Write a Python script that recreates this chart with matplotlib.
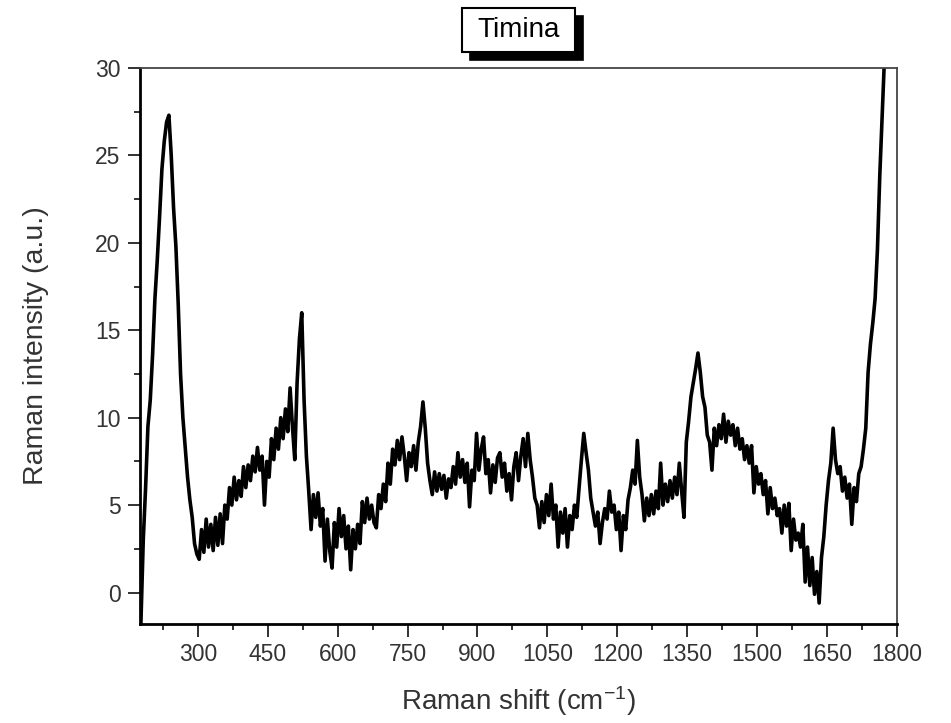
import numpy as np
import matplotlib
matplotlib.use("Agg")
import matplotlib.pyplot as plt
from matplotlib.patches import Rectangle
from matplotlib.ticker import MultipleLocator

plt.rcParams['font.family'] = ['Liberation Sans', 'DejaVu Sans']
plt.rcParams['mathtext.fontset'] = 'custom'
plt.rcParams['mathtext.rm'] = 'Liberation Sans'
plt.rcParams['mathtext.default'] = 'regular'

# Raman shift grid (cm-1) and intensity
shift = np.arange(178, 1776, 5)
intensity = [
    -1.7, 3.0, 6.0, 9.5, 11.0, 13.6, 16.8, 19.0, 21.5, 24.2,
    25.8, 26.9, 27.3, 25.0, 22.0, 19.8, 16.5, 12.5, 10.0, 8.3,
    6.6, 5.3, 4.3, 2.8, 2.2, 1.9, 3.6, 2.3, 4.2, 2.6,
    3.9, 2.4, 4.3, 2.7, 4.5, 2.8, 5.0, 4.2, 6.0, 5.0,
    6.6, 5.3, 6.4, 5.5, 7.2, 6.0, 7.3, 6.4, 7.8, 6.9,
    8.3, 7.0, 7.8, 5.0, 7.5, 6.6, 8.8, 7.6, 9.4, 8.2,
    10.0, 8.8, 10.5, 9.2, 11.7, 9.5, 7.6, 12.0, 14.5, 16.0,
    11.0, 7.8, 5.8, 3.6, 5.6, 4.3, 5.7, 3.8, 4.8, 1.8,
    4.2, 2.4, 1.4, 4.0, 2.6, 4.8, 3.2, 4.4, 2.5, 3.8,
    1.3, 3.6, 2.5, 3.9, 2.8, 5.2, 4.0, 5.4, 4.2, 5.0,
    4.0, 3.7, 5.6, 4.8, 6.2, 5.2, 7.4, 6.2, 8.2, 7.3,
    8.7, 7.6, 8.9, 7.8, 6.4, 8.0, 7.2, 8.4, 7.0, 8.6,
    9.5, 10.9, 9.4, 7.4, 6.4, 5.6, 6.9, 5.8, 6.8, 5.9,
    6.7, 5.4, 6.5, 6.0, 7.2, 6.2, 8.0, 6.6, 7.6, 6.3,
    7.4, 4.9, 7.0, 6.4, 9.1, 7.0, 8.2, 8.9, 6.8, 7.6,
    5.7, 7.3, 6.3, 7.7, 8.0, 6.6, 7.4, 5.8, 6.8, 5.3,
    7.2, 8.0, 6.4, 7.8, 8.8, 7.2, 9.1, 7.6, 6.6, 5.4,
    5.0, 3.7, 5.2, 4.0, 5.6, 4.4, 6.2, 4.2, 5.0, 2.6,
    4.6, 3.4, 4.8, 2.6, 4.4, 3.6, 5.0, 4.3, 6.0, 7.6,
    9.1, 8.0, 7.0, 5.4, 4.6, 3.8, 4.6, 2.8, 4.0, 4.8,
    4.2, 5.8, 4.6, 5.0, 3.6, 4.6, 2.4, 4.4, 3.6, 5.3,
    6.0, 7.0, 6.2, 8.7, 6.6, 5.6, 4.1, 5.4, 4.4, 5.6,
    4.5, 5.8, 4.8, 7.4, 5.0, 6.2, 5.2, 6.4, 5.4, 6.6,
    5.6, 7.4, 5.8, 4.3, 8.6, 9.8, 11.2, 12.0, 12.8, 13.7,
    12.6, 11.2, 10.6, 9.0, 8.6, 7.0, 9.4, 8.4, 9.6, 8.8,
    10.2, 8.6, 9.8, 9.0, 9.6, 8.4, 9.4, 8.2, 8.8, 7.6,
    8.4, 7.4, 8.4, 5.7, 7.2, 6.2, 6.8, 5.6, 6.4, 4.5,
    6.0, 4.8, 5.4, 4.4, 4.8, 3.4, 5.0, 3.8, 5.1, 2.4,
    4.2, 3.0, 3.4, 2.6, 3.9, 0.6, 2.6, 0.4, 2.0, -0.1,
    1.2, -0.6, 2.0, 3.2, 5.0, 6.4, 7.4, 9.4, 7.6, 6.8,
    7.2, 5.8, 6.6, 5.4, 6.2, 3.9, 6.0, 5.2, 6.8, 7.2,
    8.2, 9.4, 12.6, 14.2, 15.4, 16.8, 19.6, 23.8, 27.2, 30.5,
]

x_ticks = [300, 450, 600, 750, 900, 1050, 1200, 1350, 1500, 1650, 1800]
y_ticks = [0, 5, 10, 15, 20, 25, 30]

W, H = 951, 723
fig = plt.figure(figsize=(W / 100, H / 100), dpi=100)
ax = fig.add_axes([140 / W, 1 - 624 / H, 757 / W, 556 / H])

ax.plot(shift, intensity, color='black', linewidth=2.6)

ax.set_xlim(176, 1800)
ax.set_ylim(-1.8, 30)
ax.set_xticks(x_ticks)
ax.set_yticks(y_ticks)
ax.xaxis.set_minor_locator(MultipleLocator(75))
ax.yaxis.set_minor_locator(MultipleLocator(2.5))
ax.tick_params(which='both', direction='out', top=False, right=False,
               labelsize=16.5, labelcolor='#333333', color='#222222', width=1.3)
ax.tick_params(which='major', length=9, pad=5)
ax.tick_params(which='minor', length=4.5)

for side in ['left', 'bottom']:
    ax.spines[side].set_linewidth(2.0)
    ax.spines[side].set_color('black')
for side in ['top', 'right']:
    ax.spines[side].set_linewidth(1.3)
    ax.spines[side].set_color('#444444')

ax.set_xlabel(r'Raman shift (cm$^{-1}$)', fontsize=20, color='#333333', labelpad=13)
ax.set_ylabel('Raman intensity (a.u.)', fontsize=20.5, color='#333333', labelpad=33)

# boxed title with drop shadow (Origin style)
bx, by, bw, bh = 462 / W, 1 - 52 / H, 113 / W, 44 / H
fig.add_artist(Rectangle((bx + 8 / W, by - 8 / H), bw, bh, transform=fig.transFigure,
                         facecolor='black', edgecolor='black', linewidth=1.2))
fig.add_artist(Rectangle((bx, by), bw, bh, transform=fig.transFigure,
                         facecolor='white', edgecolor='black', linewidth=1.5))
fig.text(bx + bw / 2, by + bh / 2, 'Timina', fontsize=20, color='black',
         ha='center', va='center')

plt.savefig('out.png', dpi=100)
